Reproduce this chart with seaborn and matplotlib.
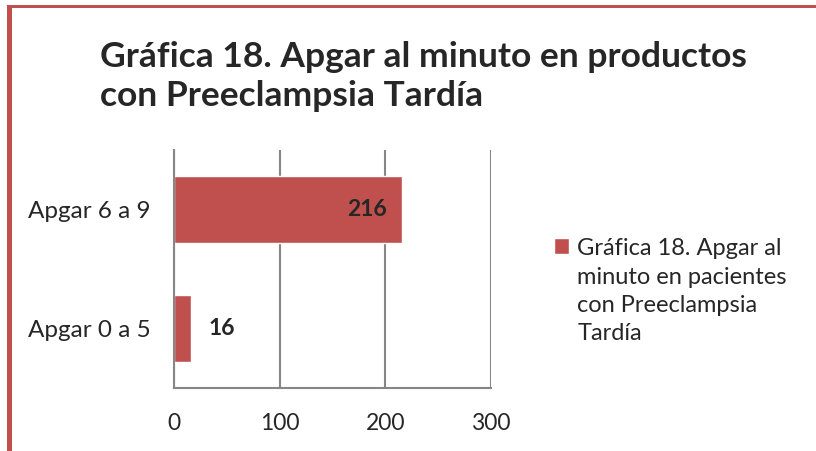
import pandas as pd
import seaborn as sns
import matplotlib.pyplot as plt
from matplotlib.patches import Rectangle

categorias = ['Apgar 6 a 9', 'Apgar 0 a 5']
valores = [216, 16]
serie = 'Gráfica 18. Apgar al\nminuto en pacientes\ncon Preeclampsia\nTardía'
titulo = 'Gráfica 18. Apgar al minuto en productos\ncon Preeclampsia Tardía'
xticks = [0, 100, 200, 300]

rojo = '#C0504D'
gris = '#868686'

df = pd.DataFrame({'categoria': categorias, 'valor': valores, 'serie': serie})

sns.set_style('white')
plt.rcParams['font.family'] = ['Lato', 'DejaVu Sans']

fig = plt.figure(figsize=(8.16, 4.51), dpi=100)
ax = fig.add_axes([174 / 816, 1 - 388 / 451, 317 / 816, 238 / 451])

sns.barplot(data=df, y='categoria', x='valor', hue='serie', orient='h',
            palette=[rojo], width=0.56, saturation=1, ax=ax, legend=True)

ax.set_xlim(0, 300)
ax.set_xticks(xticks)
ax.set_xticklabels([str(t) for t in xticks], fontsize=16.5)
ax.tick_params(axis='x', length=3, color=gris, width=1.5, pad=15)
ax.tick_params(axis='y', length=0, pad=17, labelsize=17.5)
ax.set_xlabel('')
ax.set_ylabel('')
ax.grid(axis='x', color=gris, linewidth=1.5)
ax.set_axisbelow(True)
for s in ['top', 'right']:
    ax.spines[s].set_visible(False)
for s in ['left', 'bottom']:
    ax.spines[s].set_color(gris)
    ax.spines[s].set_linewidth(1.5)

# etiquetas de datos
ax.annotate(str(valores[0]), xy=(valores[0], 0), xytext=(-11, 0), textcoords='offset points',
            ha='right', va='center', fontsize=16.5, fontweight='bold')
ax.annotate(str(valores[1]), xy=(valores[1], 1), xytext=(13, 0), textcoords='offset points',
            ha='left', va='center', fontsize=16.5, fontweight='bold')

leg = ax.legend(loc='upper left', bbox_to_anchor=(533 / 816, 1 - 217 / 451),
                bbox_transform=fig.transFigure, frameon=False, fontsize=17,
                handlelength=0.63, handleheight=0.63, handletextpad=0.34)
for t in leg.get_texts():
    t.set_linespacing(1.43)
# el cuadro de la serie va alineado con la primera línea
for col in leg._legend_handle_box.get_children():
    for item in col.get_children():
        item.align = 'top'

fig.text(100 / 816, 1 - 41 / 451, titulo, ha='left', va='top', fontsize=25.5,
         fontweight='bold', linespacing=1.27)

# borde del área del gráfico
fig.add_artist(Rectangle((7 / 816, 0), 5 / 816, 1 - 5 / 451, transform=fig.transFigure,
                         color=rojo, lw=0))
fig.add_artist(Rectangle((7 / 816, 1 - 7.5 / 451), 1, 2.5 / 451, transform=fig.transFigure,
                         color=rojo, lw=0))

fig.savefig('out.png', dpi=100)
